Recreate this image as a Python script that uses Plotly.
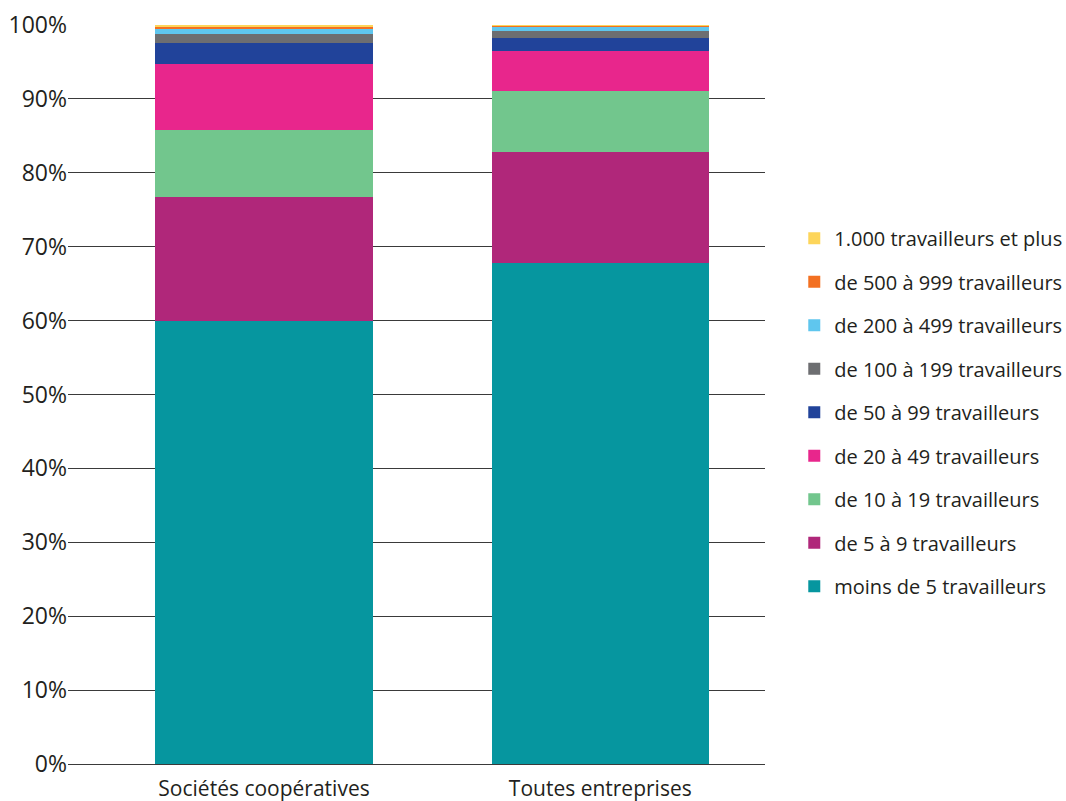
import plotly.graph_objects as go

categories = ["Sociétés coopératives", "Toutes entreprises"]
series_names = [
    "moins de 5 travailleurs",
    "de 5 à 9 travailleurs",
    "de 10 à 19 travailleurs",
    "de 20 à 49 travailleurs",
    "de 50 à 99 travailleurs",
    "de 100 à 199 travailleurs",
    "de 200 à 499 travailleurs",
    "de 500 à 999 travailleurs",
    "1.000 travailleurs et plus",
]
moins_5 = [60.0, 67.8]
de_5_9 = [16.7, 15.0]
de_10_19 = [9.1, 8.3]
de_20_49 = [8.9, 5.4]
de_50_99 = [2.9, 1.7]
de_100_199 = [1.2, 1.0]
de_200_499 = [0.7, 0.6]
de_500_999 = [0.2, 0.1]
plus_1000 = [0.3, 0.1]
series_values = [moins_5, de_5_9, de_10_19, de_20_49, de_50_99,
                 de_100_199, de_200_499, de_500_999, plus_1000]
colors = ["#06969f", "#b0277a", "#72c68d", "#e8268c", "#21439a",
          "#6d6e71", "#5fc6ee", "#f37021", "#fdd55a"]
tick_vals = [0, 10, 20, 30, 40, 50, 60, 70, 80, 90, 100]
tick_text = [f"{v}%" for v in tick_vals]

FONT = "Open Sans"
TXT = "#231f20"

fig = go.Figure()
for i, (name, vals, col) in enumerate(zip(series_names, series_values, colors)):
    fig.add_trace(go.Bar(
        x=categories, y=vals, name=name, legendgroup=name,
        legendrank=100 - i,
        marker=dict(color=col, line=dict(width=0)),
        width=0.646,
    ))

fig.update_layout(
    barmode="stack",
    width=1066, height=801,
    margin=dict(l=68, r=301, t=25, b=37, autoexpand=False),
    paper_bgcolor="white", plot_bgcolor="white",
    font=dict(family=FONT, color=TXT),
    legend=dict(
        traceorder="grouped", tracegroupgap=14.5,
        x=1.042, xanchor="left", y=0.476, yanchor="middle",
        font=dict(size=20, family=FONT, color=TXT),
        itemwidth=30,
    ),
    xaxis=dict(
        range=[-0.583, 1.49], showgrid=False, showline=False,
        tickfont=dict(size=21, family=FONT, color=TXT),
        ticks="", ticklabelstandoff=10, automargin=False,
    ),
    yaxis=dict(
        range=[0, 100], tickvals=tick_vals, ticktext=tick_text,
        showgrid=True, gridcolor="#3a3a3a", gridwidth=1,
        zeroline=True, zerolinecolor="#3a3a3a", zerolinewidth=1,
        tickfont=dict(size=23, family=FONT, color=TXT),
        ticks="", ticklabelstandoff=0, automargin=False,
    ),
)

fig.write_html("out.html")
